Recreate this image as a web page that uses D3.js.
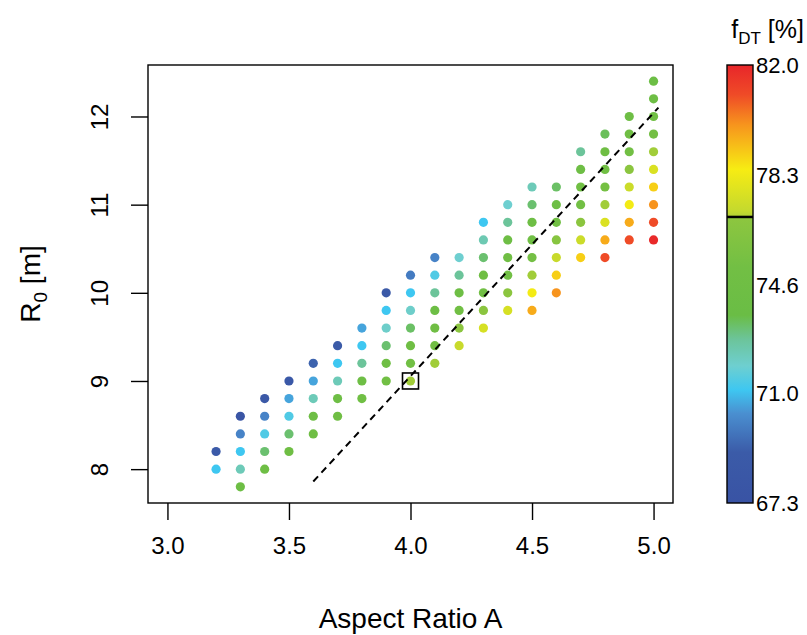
<!DOCTYPE html>
<html>
<head>
<meta charset="utf-8">
<script src="https://cdn.jsdelivr.net/npm/d3@7"></script>
<style>
    body {margin: 0; background: #fff;}
    text {font-family: "Liberation Sans", Arial, sans-serif; fill: #000;}
</style>
</head>
<body>
<svg id="chart" width="807" height="635"></svg>
<script>
// Aspect ratio of each column of points
const aspectCols = [3.2, 3.3, 3.4, 3.5, 3.6, 3.7, 3.8, 3.9, 4.0, 4.1, 4.2, 4.3, 4.4, 4.5, 4.6, 4.7, 4.8, 4.9, 5.0];

// R0 values in each column (top to bottom)
const r0Cols = [
    [8.2, 8.0],
    [8.6, 8.4, 8.2, 8.0, 7.8],
    [8.8, 8.6, 8.4, 8.2, 8.0],
    [9.0, 8.8, 8.6, 8.4, 8.2],
    [9.2, 9.0, 8.8, 8.6, 8.4],
    [9.4, 9.2, 9.0, 8.8, 8.6],
    [9.6, 9.4, 9.2, 9.0, 8.8],
    [10.0, 9.8, 9.6, 9.4, 9.2, 9.0],
    [10.2, 10.0, 9.8, 9.6, 9.4, 9.2, 9.0],
    [10.4, 10.2, 10.0, 9.8, 9.6, 9.4, 9.2],
    [10.4, 10.2, 10.0, 9.8, 9.6, 9.4],
    [10.8, 10.6, 10.4, 10.2, 10.0, 9.8, 9.6],
    [11.0, 10.8, 10.6, 10.4, 10.2, 10.0, 9.8],
    [11.2, 11.0, 10.8, 10.6, 10.4, 10.2, 10.0, 9.8],
    [11.2, 11.0, 10.8, 10.6, 10.4, 10.2, 10.0],
    [11.6, 11.4, 11.2, 11.0, 10.8, 10.6, 10.4],
    [11.8, 11.6, 11.4, 11.2, 11.0, 10.8, 10.6, 10.4],
    [12.0, 11.8, 11.6, 11.4, 11.2, 11.0, 10.8, 10.6],
    [12.4, 12.2, 12.0, 11.8, 11.6, 11.4, 11.2, 11.0, 10.8, 10.6]
];

// f_DT [%] for each point, same layout as r0Cols
const fdtCols = [
    [68.8, 71.1],
    [67.8, 70.0, 71.1, 72.3, 74.2],
    [68.6, 70.0, 71.4, 73.2, 74.3],
    [68.4, 70.6, 71.4, 73.2, 74.6],
    [69.2, 70.6, 72.3, 74.3, 74.6],
    [69.0, 71.1, 72.3, 74.4, 74.7],
    [70.6, 71.1, 72.8, 74.4, 74.8],
    [68.6, 71.1, 72.0, 73.2, 74.5, 75.0],
    [69.8, 71.1, 72.0, 73.3, 74.6, 75.1, 76.9],
    [70.0, 71.4, 72.8, 74.2, 74.7, 75.2, 76.9],
    [71.9, 72.8, 74.3, 74.9, 76.7, 77.2],
    [71.1, 72.4, 73.2, 74.5, 75.0, 76.7, 77.6],
    [71.9, 72.8, 74.3, 74.7, 75.1, 76.7, 77.6],
    [72.3, 73.2, 74.4, 74.8, 75.3, 76.9, 78.4, 79.6],
    [73.3, 74.4, 75.0, 76.5, 77.2, 79.0, 80.0],
    [72.8, 74.4, 74.8, 75.2, 76.7, 77.3, 79.0],
    [73.4, 74.5, 75.0, 75.4, 76.9, 77.7, 79.6, 81.0],
    [74.3, 74.7, 75.2, 76.7, 77.3, 78.4, 79.6, 81.0],
    [74.0, 74.4, 74.8, 75.3, 76.9, 77.7, 79.0, 80.0, 81.0, 81.9]
];

const xTicks = [3.0, 3.5, 4.0, 4.5, 5.0];
const yTicks = [8, 9, 10, 11, 12];
const barTicks = [67.3, 71.0, 74.6, 78.3, 82.0];

// colour palette
const stopValues = [67.3, 69.0, 70.3, 71.1, 71.9, 72.8, 73.6, 75.2, 76.85, 76.95, 77.1, 78.5, 80.0, 81.0, 82.0];
const stopColors = ["#3953a4", "#3b5ba8", "#4a8fd0", "#3ec7f1", "#6ecfd0", "#6cc49a", "#6abd45", "#72bf44",
                    "#8dc63f", "#b5d334", "#c4d92e", "#f7ec13", "#f7941d", "#ef4b27", "#e8262a"];
const thresholdValue = 76.9;

// dashed reference line and marked design point
const refLineA = [3.6, 5.02];
const refLineR0 = [7.86, 12.1];
const markedPoint = {a: 4.0, r0: 9.0};

let points = [];
aspectCols.forEach((a, i) => {
    r0Cols[i].forEach((r, j) => points.push({a: a, r0: r, f: fdtCols[i][j]}));
});

let svg = d3.select("#chart");

//Plot Area
let plot = {left: 148, right: 673, top: 65, bottom: 503};

let x = d3.scaleLinear().domain([2.92, 5.08]).range([plot.left, plot.right]);
let y = d3.scaleLinear().domain([7.616, 12.584]).range([plot.bottom, plot.top]);
let color = d3.scaleLinear().domain(stopValues).range(stopColors);

//Adding The Points
svg.append("g").selectAll("circle").data(points).enter().append("circle")
    .attr("cx", d => x(d.a))
    .attr("cy", d => y(d.r0))
    .attr("r", 4.6)
    .style("fill", d => color(d.f));

//Reference Line
svg.append("line")
    .attr("x1", x(refLineA[0])).attr("y1", y(refLineR0[0]))
    .attr("x2", x(refLineA[1])).attr("y2", y(refLineR0[1]))
    .attr("stroke", "#000").attr("stroke-width", 2)
    .attr("stroke-dasharray", "7,5");

//Marked Point Box
svg.append("rect")
    .attr("x", x(markedPoint.a) - 8).attr("y", y(markedPoint.r0) - 8)
    .attr("width", 16).attr("height", 16)
    .attr("fill", "none").attr("stroke", "#000").attr("stroke-width", 1.6);

//Box Around Plot
svg.append("rect")
    .attr("x", plot.left).attr("y", plot.top)
    .attr("width", plot.right - plot.left).attr("height", plot.bottom - plot.top)
    .attr("fill", "none").attr("stroke", "#000").attr("stroke-width", 1.4);

//X-Axis
let xAxis = d3.axisBottom(x).tickValues(xTicks).tickFormat(d3.format(".1f")).tickSize(17);
let gx = svg.append("g").attr("transform", "translate(0," + plot.bottom + ")").call(xAxis);
gx.select(".domain").remove();
gx.selectAll("line").attr("stroke-width", 1.4);
gx.selectAll("text")
    .attr("y", 51).attr("dy", null)
    .style("font-size", "24px").style("font-family", "Liberation Sans, Arial, sans-serif");

//Y-Axis
let yAxis = d3.axisLeft(y).tickValues(yTicks).tickFormat(d3.format("d")).tickSize(17);
let gy = svg.append("g").attr("transform", "translate(" + plot.left + ",0)").call(yAxis);
gy.select(".domain").remove();
gy.selectAll("line").attr("stroke-width", 1.4);
gy.selectAll("text")
    .attr("x", null).attr("dy", null)
    .attr("transform", "translate(-40,0) rotate(-90)")
    .style("text-anchor", "middle")
    .style("font-size", "24px").style("font-family", "Liberation Sans, Arial, sans-serif");

//Axis Titles
svg.append("text")
    .attr("x", (plot.left + plot.right) / 2).attr("y", 628)
    .style("text-anchor", "middle").style("font-size", "28px")
    .text("Aspect Ratio A");

let yTitle = svg.append("text")
    .attr("transform", "translate(40," + ((plot.top + plot.bottom) / 2) + ") rotate(-90)")
    .style("text-anchor", "middle").style("font-size", "28px");
yTitle.append("tspan").text("R");
yTitle.append("tspan").attr("dy", 7).style("font-size", "19px").text("0");
yTitle.append("tspan").attr("dy", -7).text(" [m]");

//Colour Bar
let bar = {left: 727, width: 26};
let barY = d3.scaleLinear().domain([67.3, 82.0]).range([plot.bottom, plot.top]);

let grad = svg.append("defs").append("linearGradient")
    .attr("id", "fdtGradient").attr("x1", 0).attr("y1", 1).attr("x2", 0).attr("y2", 0);
stopValues.forEach((v, i) => {
    grad.append("stop")
        .attr("offset", ((v - 67.3) / (82.0 - 67.3) * 100) + "%")
        .attr("stop-color", stopColors[i]);
});

svg.append("rect")
    .attr("x", bar.left).attr("y", plot.top)
    .attr("width", bar.width).attr("height", plot.bottom - plot.top)
    .attr("fill", "url(#fdtGradient)").attr("stroke", "#000").attr("stroke-width", 1.4);

svg.append("line")
    .attr("x1", bar.left).attr("x2", bar.left + bar.width)
    .attr("y1", barY(thresholdValue)).attr("y2", barY(thresholdValue))
    .attr("stroke", "#000").attr("stroke-width", 2.5);

svg.append("g").selectAll("text").data(barTicks).enter().append("text")
    .attr("x", bar.left + bar.width + 3)
    .attr("y", d => barY(d) + 8)
    .style("font-size", "22px")
    .text(d => d.toFixed(1));

let barTitle = svg.append("text").attr("x", 804).attr("y", 38)
    .style("text-anchor", "end").style("font-size", "25px");
barTitle.append("tspan").text("f");
barTitle.append("tspan").attr("dy", 6).style("font-size", "17px").text("DT");
barTitle.append("tspan").attr("dy", -6).text(" [%]");
</script>
</body>
</html>
